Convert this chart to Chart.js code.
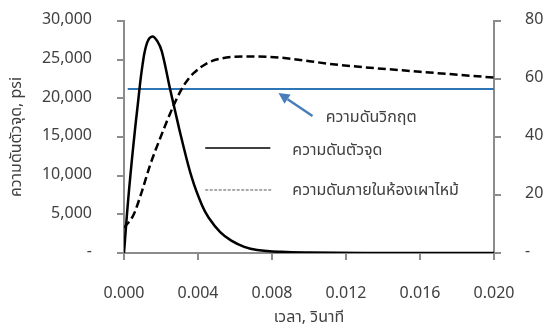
<!DOCTYPE html>
<html>
<head>
<meta charset="utf-8">
<script src="https://cdn.jsdelivr.net/npm/chart.js@4/dist/chart.umd.min.js"></script>
<style>
  html, body { margin: 0; padding: 0; background: #ffffff; }
  #wrap { width: 546px; height: 329px; }
</style>
</head>
<body>
<div id="wrap"><canvas id="c" width="546" height="329"></canvas></div>
<script>
// ---- data ----
const tipTime = [0, 0.00023, 0.00050, 0.00075, 0.00100, 0.00125, 0.00153, 0.00180, 0.00204, 0.00249, 0.00276, 0.00310, 0.00367, 0.00421, 0.00457, 0.00520, 0.00580, 0.00650, 0.00720, 0.00850, 0.0100, 0.0130, 0.0200];
const tipPsi  = [0, 7000, 13800, 19300, 24300, 27200, 28000, 27400, 26100, 21200, 18400, 14900, 9700, 6200, 4600, 2700, 1600, 800, 400, 150, 60, 15, 0];

const chamberTime  = [0, 0.00051, 0.00096, 0.00141, 0.00195, 0.00267, 0.00313, 0.00350, 0.00376, 0.00448, 0.0052, 0.00665, 0.0077, 0.0117, 0.0160, 0.0200];
const chamberPress = [8.7, 13.1, 21.1, 30.3, 39.5, 50.7, 56.7, 60.2, 62.0, 65.4, 67.0, 67.8, 67.7, 64.8, 62.5, 60.5];

const criticalTime = [0.0002, 0.0200];
const criticalPsi  = [21200, 21200];

const xTicks  = [0, 0.004, 0.008, 0.012, 0.016, 0.020];
const yTicks  = [0, 5000, 10000, 15000, 20000, 25000, 30000];
const y2Ticks = [0, 20, 40, 60, 80];

const labelTip      = 'ความดันตัวจุด';
const labelChamber  = 'ความดันภายในห้องเผาไหม้';
const labelCritical = 'ความดันวิกฤต';
const titleX = 'เวลา, วินาที';
const titleY = 'ความดันตัวจุด, psi';

// ---- build ----
const zip = (xs, ys) => xs.map((x, i) => ({ x: x, y: ys[i] }));
const FONT = "Tahoma, 'Noto Sans Thai', 'Leelawadee UI', 'DejaVu Sans', 'Liberation Sans', sans-serif";
const TXT = '#404040';
const AXIS = '#8c8c8c';
const FS = 16;

const annot = {
  id: 'annot',
  afterDatasetsDraw(chart) {
    const ctx = chart.ctx;
    const sx = chart.scales.x, sy = chart.scales.y;
    const px = v => sx.getPixelForValue(v);
    const py = v => sy.getPixelForValue(v);
    ctx.save();
    // legend sample 1 (solid)
    ctx.strokeStyle = '#000';
    ctx.lineWidth = 1.5;
    ctx.setLineDash([]);
    ctx.beginPath();
    ctx.moveTo(px(0.00439), py(13580));
    ctx.lineTo(px(0.00791), py(13580));
    ctx.stroke();
    // legend sample 2 (dashed)
    ctx.strokeStyle = '#555';
    ctx.lineWidth = 1;
    ctx.setLineDash([3, 1.5]);
    ctx.beginPath();
    ctx.moveTo(px(0.00439), py(8150));
    ctx.lineTo(px(0.00800), py(8150));
    ctx.stroke();
    ctx.setLineDash([]);
    // legend text
    ctx.fillStyle = TXT;
    ctx.font = FS + 'px ' + FONT;
    ctx.textAlign = 'left';
    ctx.textBaseline = 'middle';
    ctx.fillText(labelTip, px(0.0091), py(13060));
    ctx.fillText(labelChamber, px(0.0091), py(7890));
    ctx.fillText(labelCritical, px(0.0109), py(17330));
    // arrow
    const x1 = px(0.01019), y1 = py(17710);
    const x2 = px(0.00835), y2 = py(20690);
    const ang = Math.atan2(y2 - y1, x2 - x1);
    const hl = 11, hw = 5.5;
    const bx = x2 - hl * Math.cos(ang), by = y2 - hl * Math.sin(ang);
    ctx.strokeStyle = '#4a7ebb';
    ctx.fillStyle = '#4a7ebb';
    ctx.lineWidth = 2.5;
    ctx.beginPath();
    ctx.moveTo(x1, y1);
    ctx.lineTo(bx, by);
    ctx.stroke();
    ctx.beginPath();
    ctx.moveTo(x2, y2);
    ctx.lineTo(bx + hw * Math.sin(ang), by - hw * Math.cos(ang));
    ctx.lineTo(bx - hw * Math.sin(ang), by + hw * Math.cos(ang));
    ctx.closePath();
    ctx.fill();
    ctx.restore();
  }
};

const fmtThousands = v => v === 0 ? '-' : v.toLocaleString('en-US');
const noPad = s => { s.paddingTop = 0; s.paddingBottom = 0; s.paddingLeft = 0; s.paddingRight = 0; };

new Chart(document.getElementById('c'), {
  type: 'scatter',
  data: {
    datasets: [
      { label: labelTip, data: zip(tipTime, tipPsi), yAxisID: 'y', showLine: true,
        borderColor: '#000', borderWidth: 2.5, pointRadius: 0, tension: 0.4 },
      { label: labelChamber, data: zip(chamberTime, chamberPress), yAxisID: 'y2', showLine: true,
        borderColor: '#000', borderWidth: 2.5, borderDash: [8, 4], pointRadius: 0, cubicInterpolationMode: 'monotone' },
      { label: labelCritical, data: zip(criticalTime, criticalPsi), yAxisID: 'y', showLine: true,
        borderColor: '#2e75b6', borderWidth: 2, pointRadius: 0 }
    ]
  },
  options: {
    responsive: false,
    animation: false,
    devicePixelRatio: 1,
    layout: { padding: { top: 21, left: 0, right: 0, bottom: 0 } },
    plugins: { legend: { display: false }, tooltip: { enabled: false } },
    scales: {
      x: {
        type: 'linear', min: 0, max: 0.02,
        afterBuildTicks: s => { s.ticks = xTicks.map(v => ({ value: v })); },
        afterFit: s => { s.height = 76; noPad(s); },
        border: { display: true, color: AXIS, width: 2 },
        grid: { display: true, drawOnChartArea: false, drawTicks: true, tickLength: 7, color: AXIS, lineWidth: 2 },
        ticks: { color: TXT, font: { family: FONT, size: FS }, padding: 25, maxRotation: 0,
                 callback: v => v.toFixed(3) },
        title: { display: true, text: titleX, color: TXT, font: { family: FONT, size: FS }, padding: { top: 0, bottom: 1 } }
      },
      y: {
        type: 'linear', position: 'left', min: 0, max: 30000,
        afterBuildTicks: s => { s.ticks = yTicks.map(v => ({ value: v })); },
        afterFit: s => { s.width = 124; noPad(s); },
        border: { display: true, color: AXIS, width: 2 },
        grid: { display: true, drawOnChartArea: false, drawTicks: true, tickLength: 7, color: AXIS, lineWidth: 2 },
        ticks: { color: TXT, font: { family: FONT, size: FS }, padding: 25, callback: fmtThousands },
        title: { display: true, text: titleY, color: TXT, font: { family: FONT, size: FS }, padding: { top: 8, bottom: 0 } }
      },
      y2: {
        type: 'linear', position: 'right', min: 0, max: 80,
        afterBuildTicks: s => { s.ticks = y2Ticks.map(v => ({ value: v })); },
        afterFit: s => { s.width = 52; noPad(s); },
        border: { display: true, color: AXIS, width: 2 },
        grid: { display: true, drawOnChartArea: false, drawTicks: true, tickLength: 7, color: AXIS, lineWidth: 2 },
        ticks: { color: TXT, font: { family: FONT, size: FS }, padding: 24, callback: v => v === 0 ? '-' : String(v) }
      }
    }
  },
  plugins: [annot]
});
</script>
</body>
</html>
